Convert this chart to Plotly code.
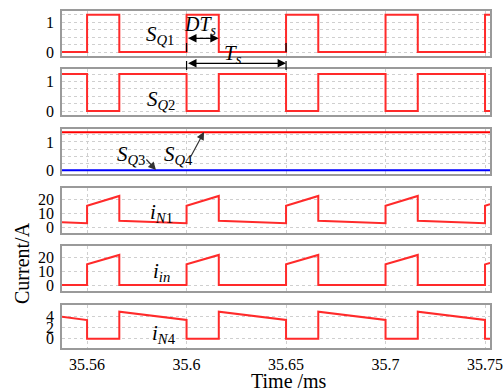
import plotly.graph_objects as go
from plotly.subplots import make_subplots

# ---------------- data ----------------
t = [35.5374, 35.55, 35.55, 35.5662, 35.5662, 35.60, 35.60, 35.6162, 35.6162,
     35.65, 35.65, 35.6662, 35.6662, 35.70, 35.70, 35.7162, 35.7162, 35.75, 35.75, 35.7525]
s_q1 = [0, 0, 1.25, 1.25, 0, 0, 1.25, 1.25, 0, 0, 1.25, 1.25, 0, 0, 1.25, 1.25, 0, 0, 1.25, 1.25]
s_q2 = [1.25, 1.25, 0, 0, 1.25, 1.25, 0, 0, 1.25, 1.25, 0, 0, 1.25, 1.25, 0, 0, 1.25, 1.25, 0, 0]
t_const = [35.5374, 35.7525]
s_q3 = [0, 0]
s_q4 = [1.34, 1.34]
i_n1 = [3.55, 2.9, 15.4, 22.4, 4.7, 2.9, 15.4, 22.4, 4.7, 2.9, 15.4, 22.4, 4.7, 2.9, 15.4, 22.4, 4.7, 2.9, 15.4, 16.6]
i_in = [0, 0, 14.9, 21.7, 0, 0, 14.9, 21.7, 0, 0, 14.9, 21.7, 0, 0, 14.9, 21.7, 0, 0, 14.9, 16.0]
i_n4 = [3.85, 3.28, 0, 0, 4.76, 3.3, 0, 0, 4.76, 3.3, 0, 0, 4.76, 3.3, 0, 0, 4.76, 3.3, 0, 0]

x_tickvals = [35.55, 35.60, 35.65, 35.70, 35.75]
x_ticktext = ["35.56", "35.6", "35.65", "35.7", "35.75"]
x_range = [35.5374, 35.7525]

# ---------------- layout helpers ----------------
W, H = 503, 392
L, R, T, B = 62, 490, 11, 348
rows_px = [(11, 56), (69, 115), (129, 174), (188, 233), (246, 291), (305, 348)]
y_ranges = [[-0.134, 1.374], [-0.135, 1.419], [-0.13, 1.455],
            [-4.07, 28.1], [-4.33, 28.16], [-1.64, 5.94]]
y_dticks = [1, 1, 1, 10, 10, 2]


def px(x):
    return (x - L) / (R - L)


def py(y):
    return (B - y) / (B - T)


FONT = "Liberation Serif"
RED = "#ff2a2a"
GRID = "#cfcfcf"
BORDER = "#9a9a9a"

fig = make_subplots(rows=6, cols=1, shared_xaxes=True, vertical_spacing=0.02)

fig.add_trace(go.Scatter(x=t, y=s_q1, mode="lines", line=dict(color=RED, width=2)), row=1, col=1)
fig.add_trace(go.Scatter(x=t, y=s_q2, mode="lines", line=dict(color=RED, width=2)), row=2, col=1)
fig.add_trace(go.Scatter(x=t_const, y=s_q4, mode="lines", line=dict(color="#ff0000", width=2)), row=3, col=1)
fig.add_trace(go.Scatter(x=t_const, y=s_q3, mode="lines", line=dict(color="#0000ff", width=2)), row=3, col=1)
fig.add_trace(go.Scatter(x=t, y=i_n1, mode="lines", line=dict(color=RED, width=2)), row=4, col=1)
fig.add_trace(go.Scatter(x=t, y=i_in, mode="lines", line=dict(color=RED, width=2)), row=5, col=1)
fig.add_trace(go.Scatter(x=t, y=i_n4, mode="lines", line=dict(color=RED, width=2)), row=6, col=1)

for i in range(6):
    top, bot = rows_px[i]
    xa = "xaxis" if i == 0 else f"xaxis{i+1}"
    ya = "yaxis" if i == 0 else f"yaxis{i+1}"
    fig.layout[xa].update(
        domain=[0, 1], automargin=False,
        range=x_range, tickmode="array", tickvals=x_tickvals, ticktext=x_ticktext,
        showticklabels=(i == 5), showgrid=True, gridcolor=GRID, griddash="dot", gridwidth=1,
        showline=True, mirror=True, linecolor=BORDER, linewidth=1.5, zeroline=False,
        ticks="", ticklabelstandoff=1, ticklabeloverflow="allow",
        tickfont=dict(family=FONT, size=16, color="black"),
    )
    yconf = dict(
        automargin=False,
        domain=[py(bot), py(top)], range=y_ranges[i], tickmode="linear", tick0=0, dtick=y_dticks[i],
        showgrid=True, gridcolor=GRID, griddash="dot", gridwidth=1,
        showline=True, mirror=True, linecolor=BORDER, linewidth=1.5, zeroline=False,
        ticks="", ticklabelstandoff=3, ticklabeloverflow="allow",
        tickfont=dict(family=FONT, size=16, color="black"),
    )
    if i < 3:
        yconf["minor"] = dict(tickmode="linear", tick0=0, dtick=0.25, showgrid=True,
                              gridcolor=GRID, griddash="dot", gridwidth=1)
    fig.layout[ya].update(**yconf)

anns = []


def txt(text, x, y, size=21, angle=0):
    anns.append(dict(text=text, x=px(x), y=py(y), xref="paper", yref="paper",
                     showarrow=False, textangle=angle, xanchor="center", yanchor="middle",
                     font=dict(family=FONT, size=size, color="black")))


txt("<i>S</i><sub><i>Q</i>1</sub>", 160, 35)
txt("<i>DT</i><sub><i>s</i></sub>", 200, 26, size=20)
txt("<i>T</i><sub><i>s</i></sub>", 233, 54)
txt("<i>S</i><sub><i>Q</i>2</sub>", 161, 100)
txt("<i>S</i><sub><i>Q</i>3</sub>", 131, 155)
txt("<i>S</i><sub><i>Q</i>4</sub>", 178, 155)
txt("<i>i</i><sub><i>N</i>1</sub>", 161, 213)
txt("<i>i</i><sub><i>in</i></sub>", 161, 272)
txt("<i>i</i><sub><i>N</i>4</sub>", 164, 334)
txt("Current/A", 22, 263, size=20, angle=-90)
txt("Time /ms", 289, 381, size=20)

# double arrows (DTs, Ts)
for x0, x1, ypx in [(35.60, 35.6162, 38.3), (35.60, 35.65, 63.3)]:
    anns.append(dict(text="", x=x1, y=py(ypx), xref="x6", yref="paper",
                     ax=x0, ay=0, axref="x6", ayref="pixel",
                     showarrow=True, arrowhead=2, arrowside="end+start",
                     arrowsize=1.3, arrowwidth=1.3, arrowcolor="black", standoff=0, startstandoff=0))

# pointer arrows SQ3 / SQ4
for tipx, tipy, dx, dy in [(156, 170, -11, -12), (204, 132, -14, 26)]:
    anns.append(dict(text="", x=px(tipx), y=py(tipy), xref="paper", yref="paper",
                     ax=dx, ay=dy, axref="pixel", ayref="pixel",
                     showarrow=True, arrowhead=2, arrowsize=1.3, arrowwidth=1.2,
                     arrowcolor="#333333", standoff=0))

shapes = []
for xv, y0, y1 in [(35.60, 35, 70), (35.65, 42, 70)]:
    shapes.append(dict(type="line", xref="x6", yref="paper", x0=xv, x1=xv,
                       y0=py(y1), y1=py(y0), line=dict(color="black", width=1.2, dash="dash")))

fig.update_layout(
    width=W, height=H, autosize=False,
    margin=dict(l=L, r=W - R, t=T, b=H - B, autoexpand=False),
    paper_bgcolor="white", plot_bgcolor="white",
    showlegend=False, annotations=anns, shapes=shapes,
    font=dict(family=FONT, color="black"),
)

fig.write_html("out.html")
